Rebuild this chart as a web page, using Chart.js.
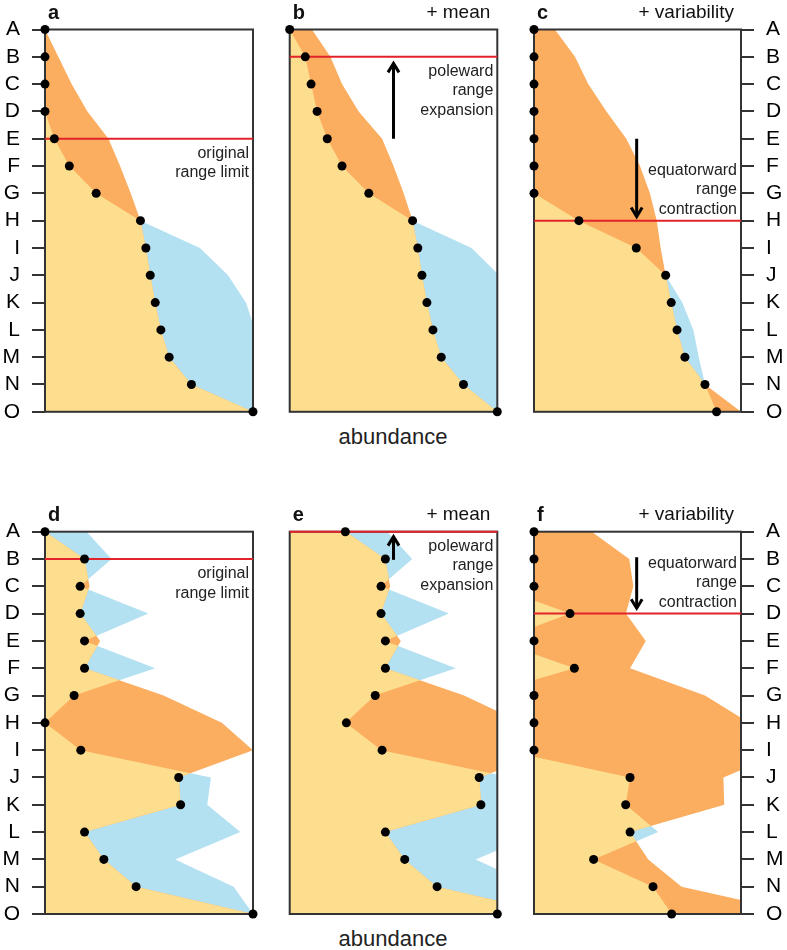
<!DOCTYPE html>
<html>
<head>
<meta charset="utf-8">
<script src="https://cdn.jsdelivr.net/npm/chart.js@4.4.1/dist/chart.umd.min.js"></script>
<style>
  body { margin: 0; background: #fff; width: 787px; height: 950px; position: relative; overflow: hidden;
         font-family: "Liberation Sans", Arial, sans-serif; }
  canvas { position: absolute; }
  .xlab { position: absolute; width: 200px; text-align: center; font-size: 22px; color: #222; }
</style>
</head>
<body>
<div class="xlab" style="left:293px; top:424px;">abundance</div>
<div class="xlab" style="left:293px; top:926px;">abundance</div>
<script>
const rows = ['A', 'B', 'C', 'D', 'E', 'F', 'G', 'H', 'I', 'J', 'K', 'L', 'M', 'N', 'O'];

// a: original profile
const aDots   = [0, 0, 0, 0, 0.045, 0.117, 0.246, 0.459, 0.485, 0.506, 0.53, 0.557, 0.597, 0.704, 1];
const aOrange = [0, 0.064, 0.128, 0.204, 0.305, 0.361, 0.412, 0.459, 0.485, 0.506, 0.53, 0.557, 0.597, 0.704, 1];
const aBlue   = [0, 0, 0, 0, 0.045, 0.117, 0.246, 0.459, 0.745, 0.88, 0.966, 1.01, 1, 1, 1];

// b: + mean
const bDots   = [0, 0.075, 0.103, 0.132, 0.181, 0.252, 0.381, 0.592, 0.617, 0.637, 0.661, 0.69, 0.73, 0.837, 1];
const bOrange = [0.107, 0.196, 0.252, 0.332, 0.445, 0.5, 0.549, 0.592, 0.617, 0.637, 0.661, 0.69, 0.73, 0.837, 1];
const bBlue   = [0, 0.075, 0.103, 0.132, 0.181, 0.252, 0.381, 0.592, 0.876, 1.01, 1.08, 1.1, 1.1, 1.08, 1];

// c: + variability
const cDots   = [0, 0, 0, 0, 0, 0, 0, 0.217, 0.494, 0.636, 0.663, 0.691, 0.729, 0.826, 0.882];
const cOrange = [0.101, 0.198, 0.262, 0.35, 0.446, 0.512, 0.56, 0.593, 0.612, 0.636, 0.663, 0.691, 0.729, 0.826, 1];
const cBlue   = [0, 0, 0, 0, 0, 0, 0, 0.217, 0.494, 0.636, 0.716, 0.77, 0.796, 0.826, 0.882];

// d: original profile (noisy)
const dDots   = [0, 0.19, 0.169, 0.169, 0.19, 0.19, 0.14, 0, 0.172, 0.643, 0.652, 0.19, 0.283, 0.438, 1];
const dOrange = [0, 0.19, 0.214, 0.169, 0.265, 0.19, 0.57, 0.85, 1, 0.643, 0.652, 0.19, 0.283, 0.438, 1];
const dBlue   = [0.2, 0.32, 0.169, 0.497, 0.19, 0.53, 0.14, 0, 0.172, 0.798, 0.78, 0.939, 0.626, 0.907, 1];

// e: + mean
const eDots   = [0.268, 0.461, 0.44, 0.44, 0.461, 0.461, 0.412, 0.273, 0.445, 0.913, 0.921, 0.461, 0.554, 0.71, 1];
const eOrange = [0.27, 0.46, 0.484, 0.439, 0.535, 0.46, 0.84, 1.12, 1.27, 0.913, 0.922, 0.46, 0.553, 0.708, 1.27];
const eBlue   = [0.47, 0.59, 0.439, 0.767, 0.46, 0.8, 0.41, 0.27, 0.442, 1.068, 1.05, 1.209, 0.896, 1.177, 1.27];

// f: + variability
const fDots   = [0, 0, 0, 0.174, 0, 0.195, 0, 0, 0, 0.464, 0.443, 0.464, 0.288, 0.575, 0.665];
const fOrange = [0.279, 0.46, 0.48, 0.444, 0.54, 0.464, 0.826, 1.04, 1.23, 0.915, 0.919, 0.464, 0.552, 0.713, 1.3];
const fBlue   = [-0.2, -0.2, -0.19, 0.174, -0.18, 0.195, -0.26, -0.3, -0.146, 0.464, 0.443, 0.6, 0.288, 0.575, 0.665];

const YELLOW = '#fddd8e';
const ORANGE = '#fbad60';
const BLUE = '#b4e1f1';
const RED = '#e3232a';
const FONT = '"Liberation Sans", Arial, sans-serif';

Chart.defaults.font.family = FONT;

const panels = [
  { letter: 'a', header: '', dots: aDots, orange: aOrange, blue: aBlue, limit: 4,
    note: ['original', 'range limit'], noteAbove: false, arrow: null, axis: 'left',
    left: 0, top: 0, w: 262, h: 450, plotL: 45, plotR: 253, plotT: 29.5, plotB: 411.8 },
  { letter: 'b', header: '+ mean', dots: bDots, orange: bOrange, blue: bBlue, limit: 1,
    note: ['poleward', 'range', 'expansion'], noteAbove: false, arrow: { x: 0.5, from: 4, to: 1.24 }, axis: 'none',
    left: 262, top: 0, w: 262, h: 450, plotL: 289.7, plotR: 497.3, plotT: 29.5, plotB: 411.8 },
  { letter: 'c', header: '+ variability', dots: cDots, orange: cOrange, blue: cBlue, limit: 7,
    note: ['equatorward', 'range', 'contraction'], noteAbove: true, arrow: { x: 0.496, from: 4, to: 6.85 }, axis: 'right',
    left: 520, top: 0, w: 267, h: 450, plotL: 534, plotR: 741, plotT: 29.5, plotB: 411.8 },
  { letter: 'd', header: '', dots: dDots, orange: dOrange, blue: dBlue, limit: 1,
    note: ['original', 'range limit'], noteAbove: false, arrow: null, axis: 'left',
    left: 0, top: 495, w: 262, h: 455, plotL: 45, plotR: 253, plotT: 531.7, plotB: 914 },
  { letter: 'e', header: '+ mean', dots: eDots, orange: eOrange, blue: eBlue, limit: 0,
    note: ['poleward', 'range', 'expansion'], noteAbove: false, arrow: { x: 0.5, from: 1.03, to: 0.18 }, axis: 'none',
    left: 262, top: 495, w: 262, h: 455, plotL: 289.7, plotR: 497.3, plotT: 531.7, plotB: 914 },
  { letter: 'f', header: '+ variability', dots: fDots, orange: fOrange, blue: fBlue, limit: 3,
    note: ['equatorward', 'range', 'contraction'], noteAbove: true, arrow: { x: 0.496, from: 0.94, to: 2.8 }, axis: 'right',
    left: 520, top: 495, w: 267, h: 455, plotL: 534, plotR: 741, plotT: 531.7, plotB: 914 }
];

function pts(vals) {
  return vals.map((v, i) => ({ x: v, y: i }));
}

// lower envelope of the two curves, with the crossing points added
function lowerEdge(p, q) {
  const out = [];
  for (let i = 0; i < p.length; i++) {
    out.push({ x: Math.min(p[i], q[i]), y: i });
    if (i < p.length - 1) {
      const d0 = p[i] - q[i], d1 = p[i + 1] - q[i + 1];
      if (d0 * d1 < 0) {
        const t = d0 / (d0 - d1);
        out.push({ x: p[i] + (p[i + 1] - p[i]) * t, y: i + t });
      }
    }
  }
  return out;
}

function fillSet(label, data, color) {
  return { label, data, fill: 'origin', backgroundColor: color, borderColor: 'rgba(0,0,0,0)',
           borderWidth: 0, pointRadius: 0, tension: 0 };
}

const boxPlugin = {
  id: 'box',
  afterDatasetDraw(chart, args) {
    if (chart.data.datasets[args.index].label !== 'yellow') return;
    const { ctx, chartArea: ca } = chart;
    ctx.save();
    ctx.strokeStyle = '#333';
    ctx.lineWidth = 2;
    ctx.strokeRect(ca.left, ca.top, ca.right - ca.left, ca.bottom - ca.top);
    ctx.restore();
  }
};

const textPlugin = {
  id: 'panelText',
  afterDatasetsDraw(chart, args, opts) {
    const p = opts.panel;
    if (!p) return;
    const { ctx, chartArea: ca } = chart;
    const ry = chart.scales.y.getPixelForValue(p.limit);
    ctx.save();
    ctx.fillStyle = '#111';
    ctx.textBaseline = 'alphabetic';
    ctx.textAlign = 'left';
    ctx.font = 'bold 20px ' + FONT;
    ctx.fillText(p.letter, ca.left + 3, ca.top - 11);
    if (p.header) {
      ctx.textAlign = 'right';
      ctx.font = '19px ' + FONT;
      ctx.fillText(p.header, ca.right - 7, ca.top - 12);
    }
    ctx.textAlign = 'right';
    ctx.font = '16px ' + FONT;
    ctx.fillStyle = '#222';
    p.note.forEach((line, i) => {
      const by = p.noteAbove ? ry - 7 - (p.note.length - 1 - i) * 19.5 : ry + 19 + i * 19.5;
      ctx.fillText(line, ca.right - 4, by);
    });
    ctx.restore();
  }
};

function buildChart(p) {
  const canvas = document.createElement('canvas');
  canvas.width = p.w;
  canvas.height = p.h;
  canvas.style.left = p.left + 'px';
  canvas.style.top = p.top + 'px';
  canvas.style.width = p.w + 'px';
  canvas.style.height = p.h + 'px';
  document.body.appendChild(canvas);

  const datasets = [];
  datasets.push({ label: 'dots', data: pts(p.dots), showLine: false, pointRadius: 4.5, pointHoverRadius: 4.5,
                  pointBackgroundColor: '#000', pointBorderWidth: 0, clip: false, fill: false });
  if (p.arrow) {
    const a = p.arrow;
    const dir = Math.sign(a.from - a.to);
    const hx = 5.5 / (p.plotR - p.plotL);
    const hy = 9 / ((p.plotB - p.plotT) / 14);
    datasets.push({ label: 'arrowhead', data: [{ x: a.x - hx, y: a.to + dir * hy }, { x: a.x, y: a.to }, { x: a.x + hx, y: a.to + dir * hy }],
                    borderColor: '#000', borderWidth: 3, pointRadius: 0, fill: false, borderJoinStyle: 'miter', clip: false });
    datasets.push({ label: 'arrow', data: [{ x: a.x, y: a.from }, { x: a.x, y: a.to + dir * 0.03 }],
                    borderColor: '#000', borderWidth: 3, pointRadius: 0, fill: false, clip: false });
  }
  datasets.push({ label: 'limit', data: [{ x: 0, y: p.limit }, { x: 1, y: p.limit }],
                  borderColor: RED, borderWidth: 2, pointRadius: 0, fill: false, clip: false });
  datasets.push(fillSet('yellow', lowerEdge(p.blue, p.orange), YELLOW));
  datasets.push(fillSet('orange', pts(p.orange), ORANGE));
  datasets.push(fillSet('blue', pts(p.blue), BLUE));

  const axisW = p.axis === 'left' ? p.plotL - p.left : (p.axis === 'right' ? p.left + p.w - p.plotR : 0);
  const padding = {
    top: p.plotT - p.top,
    bottom: p.top + p.h - p.plotB,
    left: p.axis === 'left' ? 0 : p.plotL - p.left,
    right: p.axis === 'right' ? 0 : p.left + p.w - p.plotR
  };

  return new Chart(canvas, {
    type: 'line',
    data: { datasets },
    options: {
      indexAxis: 'y',
      responsive: false,
      animation: false,
      devicePixelRatio: 1,
      events: [],
      layout: { padding },
      plugins: { legend: { display: false }, tooltip: { enabled: false }, panelText: { panel: p } },
      scales: {
        x: { type: 'linear', min: 0, max: 1, display: false },
        y: {
          type: 'linear', min: 0, max: 14, reverse: true,
          position: p.axis === 'right' ? 'right' : 'left',
          display: p.axis !== 'none',
          afterFit: (scale) => { scale.width = axisW; },
          border: { display: false },
          grid: { drawOnChartArea: false, drawTicks: true, tickLength: 13, color: '#333', lineWidth: 2 },
          ticks: {
            stepSize: 1, autoSkip: false, padding: 12, color: '#000',
            font: { size: 21, family: FONT },
            callback: (v) => rows[v]
          }
        }
      }
    },
    plugins: [boxPlugin, textPlugin]
  });
}

panels.forEach(buildChart);
</script>
</body>
</html>
